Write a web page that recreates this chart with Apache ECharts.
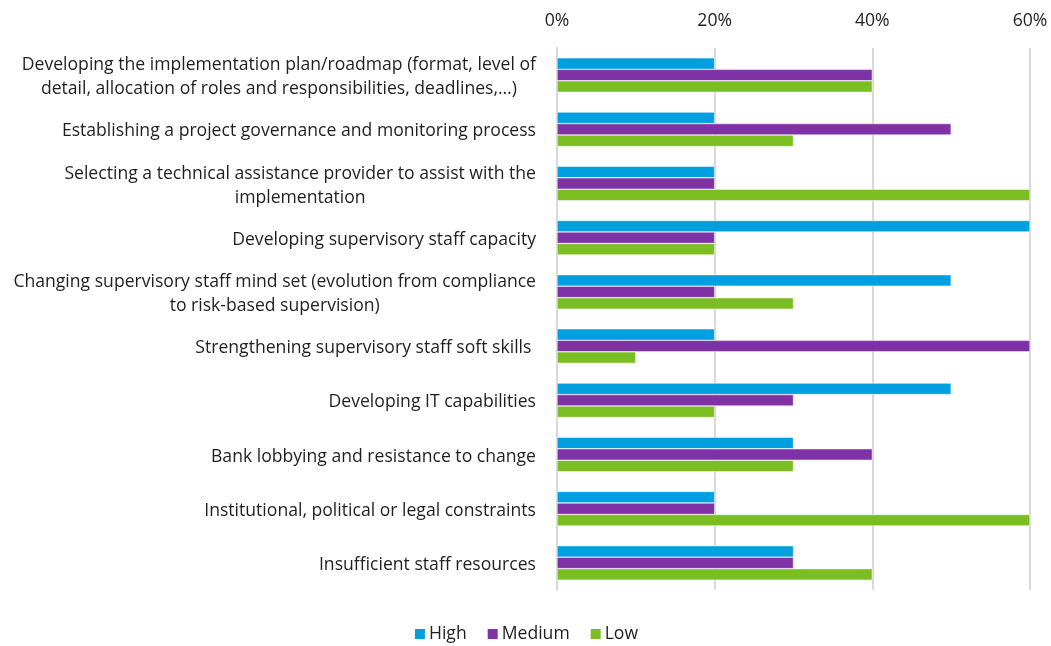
<!DOCTYPE html>
<html><head><meta charset="utf-8">
<script src="https://cdn.jsdelivr.net/npm/echarts@6/dist/echarts.min.js"></script>
<style>html,body{margin:0;padding:0;background:#fff}#c{width:1051px;height:646px}</style>
</head><body><div id="c"></div>
<script>
const categories = [
  "Developing the implementation plan/roadmap (format, level of\ndetail, allocation of roles and responsibilities, deadlines,…)",
  "Establishing a project governance and monitoring process",
  "Selecting a technical assistance provider to assist with the\nimplementation",
  "Developing supervisory staff capacity",
  "Changing supervisory staff mind set (evolution from compliance\nto risk-based supervision)",
  "Strengthening supervisory staff soft skills ",
  "Developing IT capabilities",
  "Bank lobbying and resistance to change",
  "Institutional, political or legal constraints",
  "Insufficient staff resources"
];
const high   = [20, 20, 20, 60, 50, 20, 50, 30, 20, 30];
const medium = [40, 50, 20, 20, 20, 60, 30, 40, 20, 30];
const low    = [40, 30, 60, 20, 30, 10, 20, 30, 60, 40];
const xTicks = [0, 20, 40, 60];

const font = "'Open Sans', 'Noto Sans', sans-serif";
const fs = 17.6;
const txt = '#1f1f1f';
const chart = echarts.init(document.getElementById('c'));
const mk = (name, data, color) => ({
  name, type: 'bar', data, barWidth: 11.5, barGap: '0%',
  itemStyle: { color, borderColor: '#fff', borderWidth: 0.5 }
});
chart.setOption({
  animation: false,
  textStyle: { fontFamily: font },
  grid: { left: 557, right: 21, top: 48, bottom: 56, containLabel: false },
  legend: {
    bottom: -2, left: 'center', itemWidth: 12, itemHeight: 12, itemGap: 19,
    icon: 'rect', textStyle: { fontSize: fs, color: txt, fontFamily: font, padding: [0, 0, 0, -2] },
    data: ['High', 'Medium', 'Low']
  },
  xAxis: {
    type: 'value', position: 'top', min: xTicks[0], max: xTicks[xTicks.length - 1], interval: 20,
    axisLine: { show: false }, axisTick: { show: false },
    splitLine: { show: true, lineStyle: { color: '#d9d9d9', width: 2 } },
    axisLabel: { formatter: '{value}%', fontSize: fs, color: txt, margin: 18, fontFamily: font }
  },
  yAxis: {
    type: 'category', inverse: true, data: categories,
    axisLine: { show: true, lineStyle: { color: '#d9d9d9', width: 2 } },
    axisTick: { show: false },
    axisLabel: {
      margin: 21, align: 'right', padding: [4, 0, 0, 0],
      formatter: v => '{c|' + v + '}',
      rich: { c: { align: 'center', fontSize: fs, color: txt, lineHeight: 24, fontFamily: font } }
    }
  },
  series: [mk('High', high, '#009fe0'), mk('Medium', medium, '#7f32a5'), mk('Low', low, '#7bbe22')]
});
</script></body></html>
